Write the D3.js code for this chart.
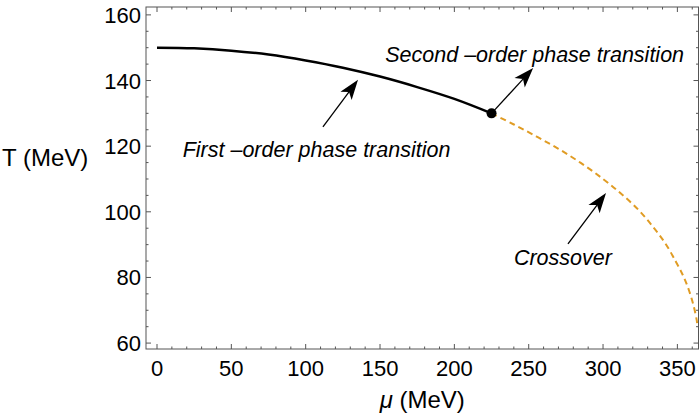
<!DOCTYPE html>
<html lang="en">
<head>
    <meta charset="utf-8">
    <title>Phase diagram</title>
    <script src="https://d3js.org/d3.v7.min.js"></script>
    <style>
        body {
            margin: 0;
            background: #fff;
        }
        text {
            font-family: "Liberation Sans", Arial, sans-serif;
            fill: #000;
        }
        .tick-label {
            font-size: 22px;
        }
        .axis-label {
            font-size: 24px;
        }
        .note {
            font-size: 21.5px;
            font-style: italic;
        }
    </style>
</head>
<body>
    <svg id="chart" width="700" height="418"></svg>

    <script>
        // first-order line (mu, T)
        const firstMu = [0, 25, 50, 75, 100, 125, 150, 175, 200, 225];
        const firstT = [150, 149.8, 149.1, 147.9, 146.1, 143.9, 141.2, 138.0, 134.4, 130];

        // crossover (dashed)
        const crossMu = [225, 240, 255, 270, 285, 300, 312, 324, 334, 342, 349, 354, 358, 361, 363, 363.4];
        const crossT = [130, 126.6, 123.0, 119.2, 114.9, 110.0, 105.6, 100.5, 95.2, 90.3, 84.8, 80.4, 75.8, 71.2, 67.0, 65.5];

        const critPoint = [225, 130];

        const xTicks = [0, 50, 100, 150, 200, 250, 300, 350];
        const yTicks = [60, 80, 100, 120, 140, 160];

        // annotations: label, text anchor point, arrow tail, arrow tip (data coords)
        const notes = [
            { text: "Second \u2013order phase transition", at: [254, 145.7], from: [225, 130], to: [253, 143.8] },
            { text: "First \u2013order phase transition", at: [107.3, 116.7], from: [111.6, 125.9], to: [135.2, 140.2] },
            { text: "Crossover", at: [273, 83.8], from: [276.4, 90.2], to: [302, 105.7] }
        ];

        const svg = d3.select("#chart");
        const fL = 146, fR = 698.5, fT = 7, fB = 349;

        const x = d3.scaleLinear().domain([-7.4, 364.2]).range([fL, fR]);
        const y = d3.scaleLinear().domain([58.2, 162.4]).range([fB, fT]);

        const frameColor = "#555";

        // frame
        svg.append("rect")
            .attr("x", fL).attr("y", fT)
            .attr("width", fR - fL).attr("height", fB - fT)
            .attr("fill", "none")
            .attr("stroke", frameColor)
            .attr("stroke-width", 1);

        // ticks (inward, all four sides)
        const xMinor = d3.range(0, 361, 10).filter(v => v % 50 !== 0);
        const yMinor = d3.range(60, 161, 5).filter(v => v % 20 !== 0);
        const tickG = svg.append("g").attr("stroke", frameColor).attr("stroke-width", 1);

        function xTick(v, len) {
            tickG.append("line").attr("x1", x(v)).attr("x2", x(v)).attr("y1", fB).attr("y2", fB - len);
            tickG.append("line").attr("x1", x(v)).attr("x2", x(v)).attr("y1", fT).attr("y2", fT + len);
        }
        function yTick(v, len) {
            tickG.append("line").attr("y1", y(v)).attr("y2", y(v)).attr("x1", fL).attr("x2", fL + len);
            tickG.append("line").attr("y1", y(v)).attr("y2", y(v)).attr("x1", fR).attr("x2", fR - len);
        }
        xTicks.forEach(v => xTick(v, 5));
        xMinor.forEach(v => xTick(v, 2.5));
        yTicks.forEach(v => yTick(v, 5));
        yMinor.forEach(v => yTick(v, 2.5));

        svg.selectAll(".xlab")
            .data(xTicks)
            .join("text")
            .attr("class", "tick-label")
            .attr("x", d => x(d))
            .attr("y", 376)
            .attr("text-anchor", "middle")
            .text(d => d);

        svg.selectAll(".ylab")
            .data(yTicks)
            .join("text")
            .attr("class", "tick-label")
            .attr("x", fL - 5)
            .attr("y", d => y(d) + 8)
            .attr("text-anchor", "end")
            .text(d => d);

        // axis labels
        svg.append("text")
            .attr("class", "axis-label")
            .attr("x", 2).attr("y", 166)
            .text("T (MeV)");

        const xl = svg.append("text")
            .attr("class", "axis-label")
            .attr("x", (fL + fR) / 2).attr("y", 408)
            .attr("text-anchor", "middle");
        xl.append("tspan").attr("font-style", "italic").text("\u03bc");
        xl.append("tspan").text(" (MeV)");

        // curves
        const line = d3.line()
            .x(d => x(d[0]))
            .y(d => y(d[1]))
            .curve(d3.curveCatmullRom);

        svg.append("path")
            .datum(crossMu.map((m, i) => [m, crossT[i]]))
            .attr("d", line)
            .attr("fill", "none")
            .attr("stroke", "#e09c24")
            .attr("stroke-width", 2)
            .attr("stroke-dasharray", "6,4");

        svg.append("path")
            .datum(firstMu.map((m, i) => [m, firstT[i]]))
            .attr("d", line)
            .attr("fill", "none")
            .attr("stroke", "#000")
            .attr("stroke-width", 2.5);

        svg.append("circle")
            .attr("cx", x(critPoint[0]))
            .attr("cy", y(critPoint[1]))
            .attr("r", 5)
            .attr("fill", "#000");

        // arrows + labels
        notes.forEach(n => {
            const x1 = x(n.from[0]), y1 = y(n.from[1]);
            const x2 = x(n.to[0]), y2 = y(n.to[1]);
            const ang = Math.atan2(y2 - y1, x2 - x1);
            const L = 20, W = 7, notch = 15;
            const ca = Math.cos(ang), sa = Math.sin(ang);
            const bx = x2 - L * ca, by = y2 - L * sa;
            const nx = x2 - notch * ca, ny = y2 - notch * sa;

            svg.append("line")
                .attr("x1", x1).attr("y1", y1)
                .attr("x2", nx).attr("y2", ny)
                .attr("stroke", "#000")
                .attr("stroke-width", 1.3);

            const pts = [
                [x2, y2],
                [bx - W * sa, by + W * ca],
                [nx, ny],
                [bx + W * sa, by - W * ca]
            ];
            svg.append("polygon")
                .attr("points", pts.map(p => p.join(",")).join(" "))
                .attr("fill", "#000");

            svg.append("text")
                .attr("class", "note")
                .attr("x", x(n.at[0]))
                .attr("y", y(n.at[1]))
                .attr("text-anchor", "middle")
                .text(n.text);
        });
    </script>
</body>
</html>
